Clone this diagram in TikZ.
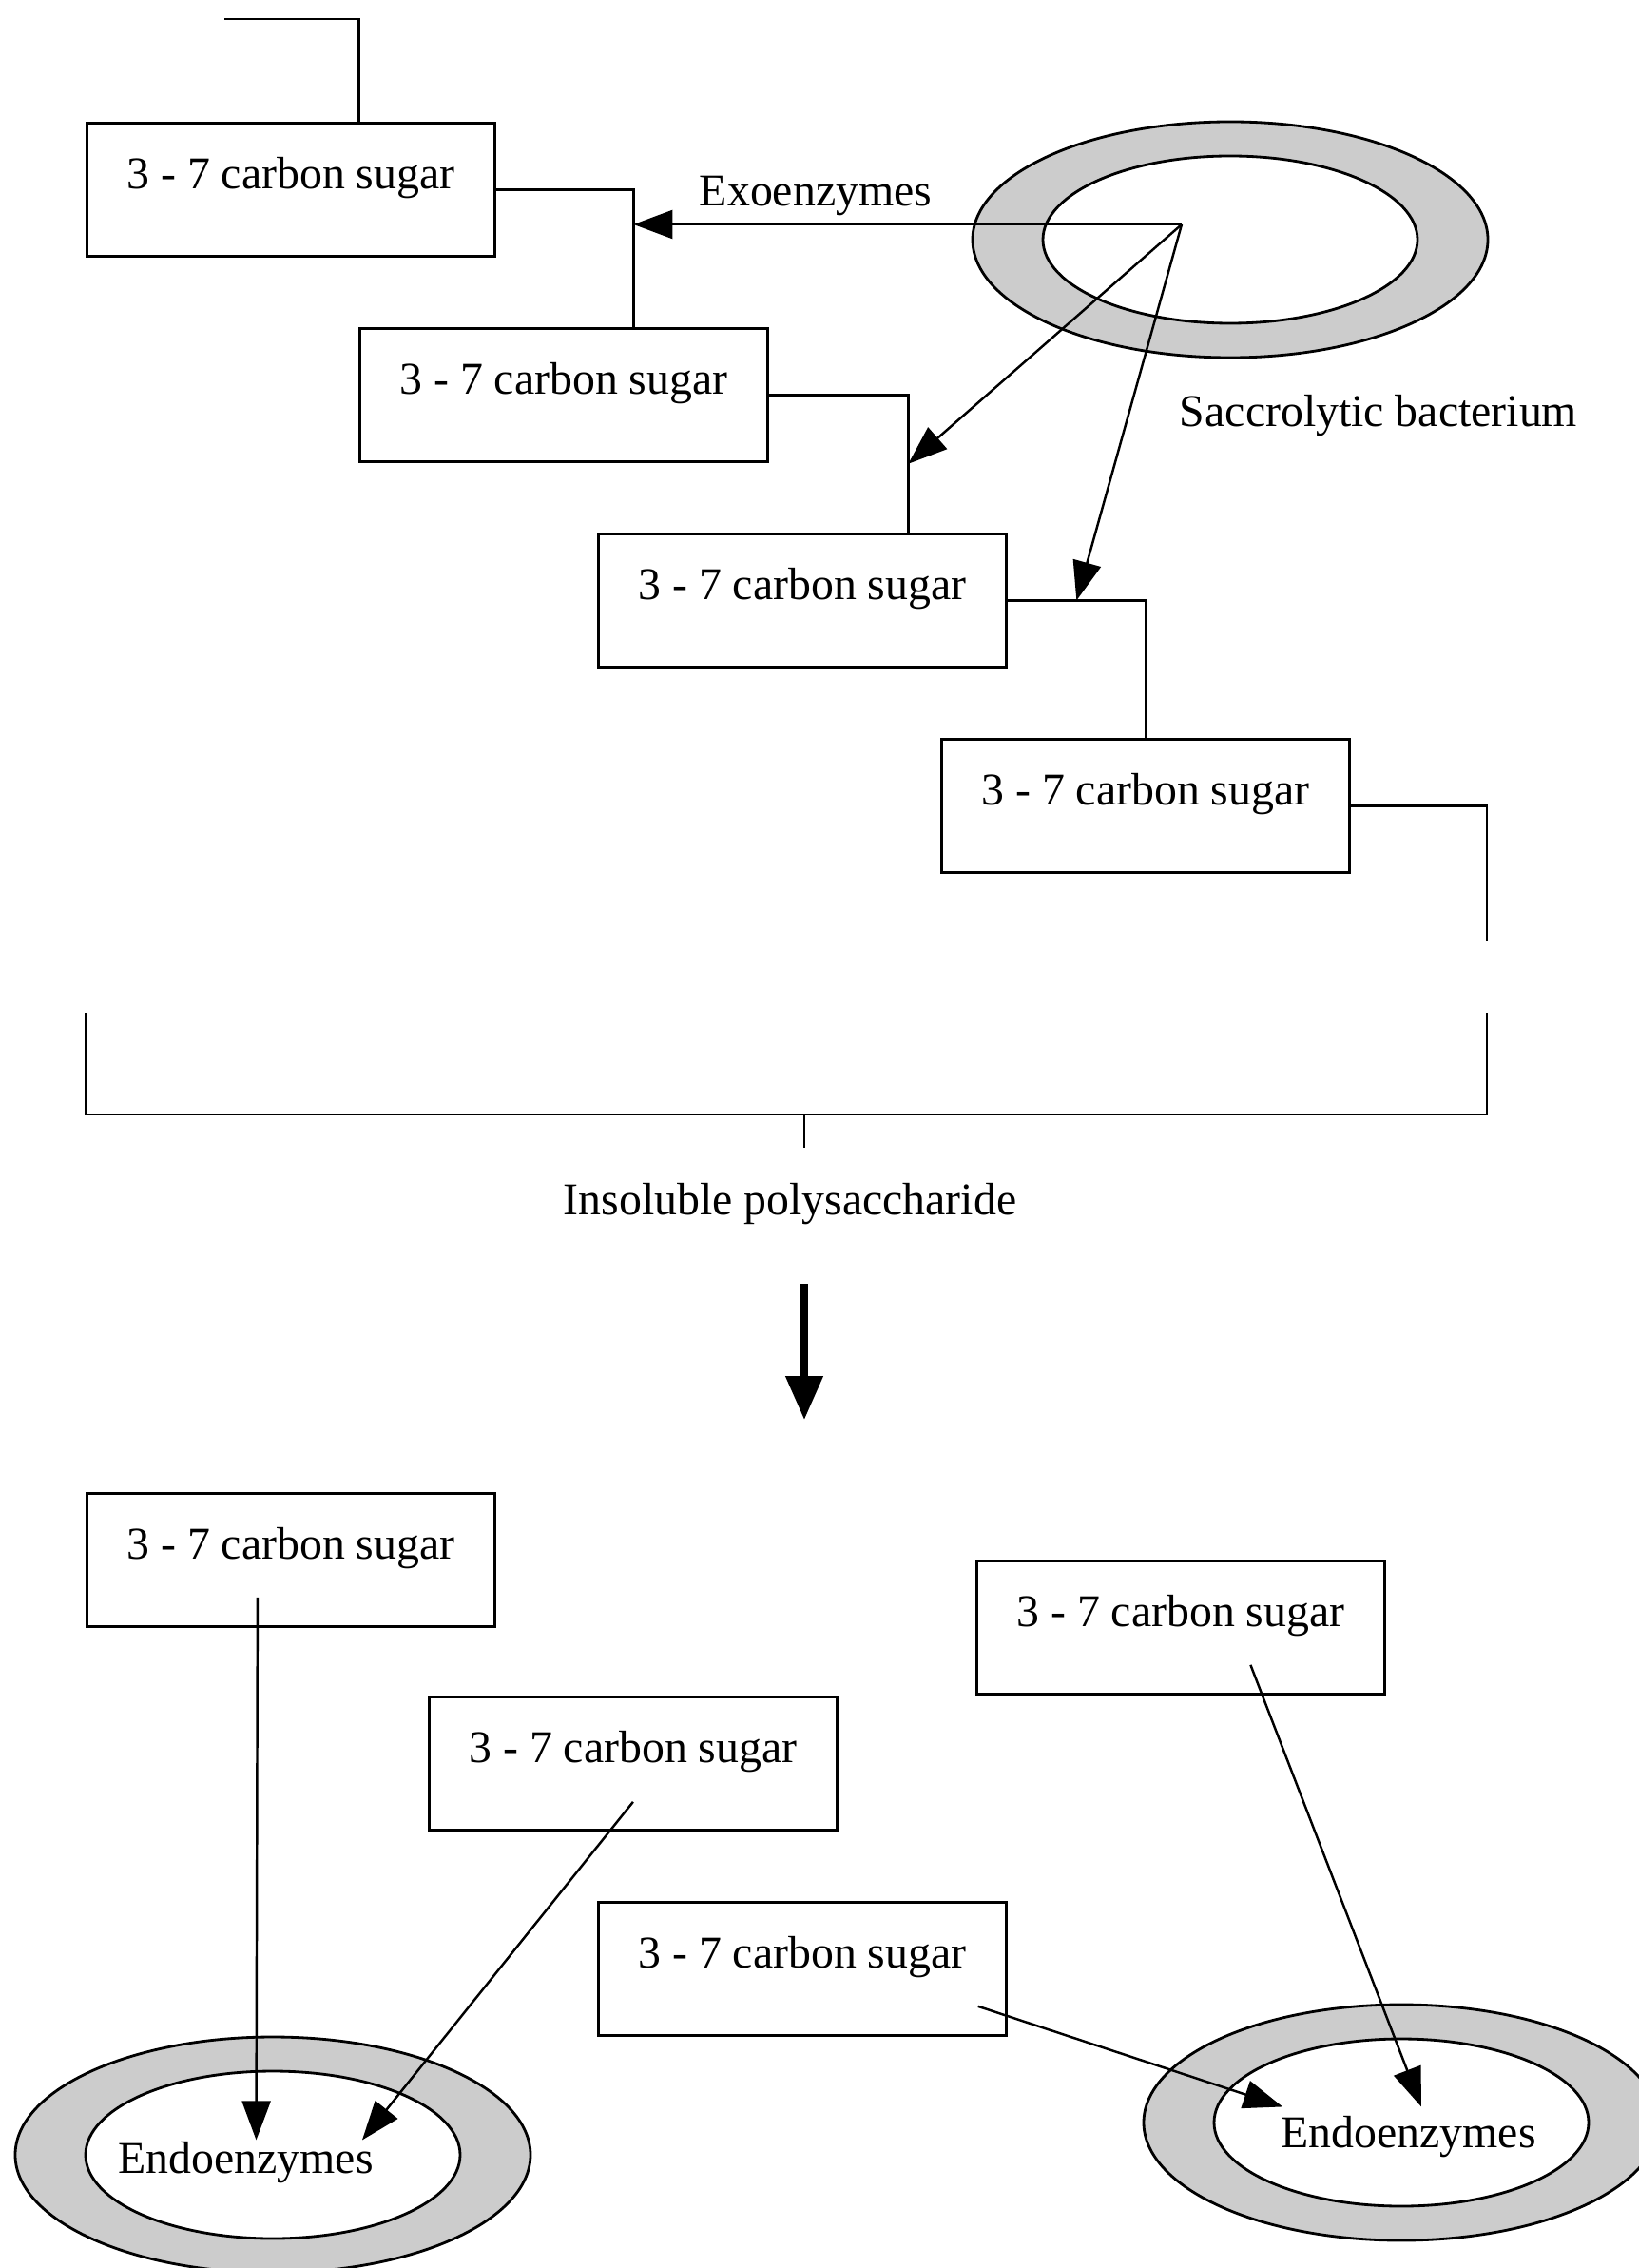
\documentclass[tikz,border=0pt]{standalone}
\usepackage{fontspec}
\setmainfont{Liberation Serif}
\usetikzlibrary{arrows.meta,calc}

\begin{document}
\begin{tikzpicture}[x=1cm,y=1cm,
  font=\fontsize{13.6pt}{16pt}\selectfont,
  line width=0.8pt,
  sugar/.style={draw, anchor=north west, minimum width=4.29cm,
    inner xsep=0pt, inner ysep=0pt, text height=0.69cm, text depth=0.71cm},
  arr/.style={line width=0.7pt, -{Triangle[length=0.41cm,width=0.3cm]}},
  fat/.style={line width=2.2pt, -{Triangle[length=0.46cm,width=0.38cm]}},
  ring/.style={draw, fill=gray!40},
  hole/.style={draw, fill=white},
  lbl/.style={anchor=base, inner sep=0pt}]
\useasboundingbox (0,0) rectangle (17.24,-23.85);

\coordinate (bac) at (12.94,-2.52);
\draw[ring] (bac) ellipse [x radius=2.71, y radius=1.24];
\draw[hole] (bac) ellipse [x radius=1.97, y radius=0.88];
\coordinate (src) at (12.43,-2.36);
\node[lbl] (bacl) at (14.50,-4.49) {Saccrolytic bacterium};

\node[sugar] (s1) at (0.90,-1.28) {3 - 7 carbon sugar};
\node[sugar] (s2) at (3.77,-3.44) {3 - 7 carbon sugar};
\node[sugar] (s3) at (6.28,-5.60) {3 - 7 carbon sugar};
\node[sugar] (s4) at (9.89,-7.76) {3 - 7 carbon sugar};

\coordinate (t0) at (2.36,-0.20);
\coordinate (k1) at ([xshift=0.735cm]s2.north);
\coordinate (k2) at ([xshift=1.115cm]s3.north);
\coordinate (t1) at (15.64,-9.90);
\draw (t0) -| ([xshift=0.715cm]s1.north);
\draw (s1.east) -| (k1);
\draw (s2.east) -| (k2);
\draw (s3.east) -| (s4.north);
\draw (s4.east) -| (t1);

\draw[arr] (src) -- (k1 |- src);
\draw[arr] (src) -- ($(s2.east -| k2)!0.5!(k2)$);
\draw[arr] (src) -- ($(s3.east)!0.5!(s3.east -| s4.north)$);
\node[lbl] (exo) at (8.58,-2.17) {Exoenzymes};

\coordinate (bl) at (0.90,-10.65);
\coordinate (br) at (15.64,-10.65);
\coordinate (mid) at (8.46,-11.72);
\draw (bl) -- ++(0,-1.07) -| (br);
\draw (mid) -- ++(0,-0.35);
\node[lbl] (poly) at (8.31,-12.77) {Insoluble polysaccharide};
\coordinate (d0) at (8.46,-13.50);
\coordinate (d1) at (8.46,-14.93);
\draw[fat] (d0) -- (d1);

\coordinate (cl) at (2.87,-22.66);
\coordinate (cr) at (14.74,-22.32);
\draw[ring] (cl) ellipse [x radius=2.71, y radius=1.24];
\draw[hole] (cl) ellipse [x radius=1.97, y radius=0.88];
\draw[ring] (cr) ellipse [x radius=2.71, y radius=1.24];
\draw[hole] (cr) ellipse [x radius=1.97, y radius=0.88];
\node[lbl] (endoL) at (2.585,-22.85) {Endoenzymes};
\node[lbl] (endoR) at (14.815,-22.58) {Endoenzymes};

\node[sugar] (b1) at (0.90,-15.69) {3 - 7 carbon sugar};
\node[sugar] (b2) at (4.50,-17.83) {3 - 7 carbon sugar};
\node[sugar] (b3) at (6.28,-19.99) {3 - 7 carbon sugar};
\node[sugar] (b4) at (10.26,-16.40) {3 - 7 carbon sugar};

\draw[arr] ([xshift=-0.35cm,yshift=0.32cm]b1.south) -- ([xshift=0.11cm]endoL.north);
\draw[arr] ([yshift=0.31cm]b2.south) -- ([xshift=-0.13cm]endoL.north east);
\draw[arr] ([xshift=-0.31cm,yshift=0.32cm]b3.south east) -- ([xshift=0.03cm,yshift=0.08cm]endoR.north west);
\draw[arr] ([xshift=0.735cm,yshift=0.32cm]b4.south) -- ([xshift=0.135cm,yshift=0.08cm]endoR.north);
\end{tikzpicture}
\end{document}
